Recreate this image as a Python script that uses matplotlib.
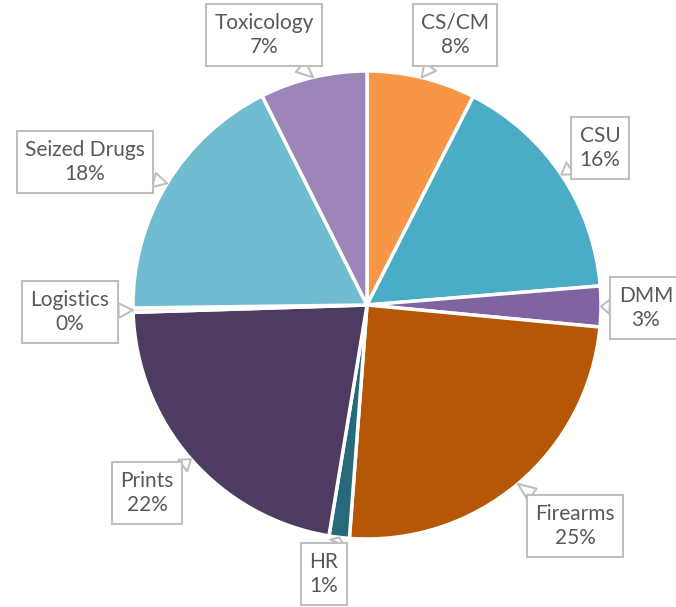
import numpy as np
import matplotlib.pyplot as plt

# Section share of cases (%)
sections = ['CS/CM', 'CSU', 'DMM', 'Firearms', 'HR', 'Prints', 'Logistics',
            'Seized Drugs', 'Toxicology']
shares = [7.5, 16.2, 2.8, 24.7, 1.4, 21.9, 0.3, 17.8, 7.4]
colors = ['#F79646', '#4BACC6', '#8064A2', '#B65708', '#276A7C', '#4D3B62',
          '#FAC090', '#70BCD1', '#9C85B8']

# label box centres in figure pixels (from top-left)
label_pos = {
    'CS/CM': (455, 35), 'CSU': (600, 148), 'DMM': (646, 308),
    'Firearms': (575, 526), 'HR': (324, 574), 'Prints': (147, 493),
    'Logistics': (70, 312), 'Seized Drugs': (85, 162), 'Toxicology': (264, 35),
}

W, H = 676, 607
fig = plt.figure(figsize=(W / 100, H / 100), dpi=100)
cx, cy, r = 367, 305, 234
ax = fig.add_axes([(cx - r) / W, (H - cy - r) / H, 2 * r / W, 2 * r / H])

wedges, _ = ax.pie(shares, colors=colors, startangle=90, counterclock=False,
                   radius=1, wedgeprops=dict(edgecolor='white', linewidth=2.5))
ax.set_xlim(-1, 1)
ax.set_ylim(-1, 1)
ax.set_aspect('equal')
ax.axis('off')

for w, name, val in zip(wedges, sections, shares):
    mid = np.deg2rad((w.theta1 + w.theta2) / 2)
    tip = (np.cos(mid), np.sin(mid))
    tx, ty = label_pos[name]
    ax.annotate(f'{name}\n{val:.0f}%', xy=tip, xycoords='data',
                xytext=(tx, H - ty), textcoords='figure pixels',
                ha='center', va='center', fontsize=15, family='Lato',
                color='#595959', linespacing=1.3,
                bbox=dict(boxstyle='square,pad=0.4', fc='white', ec='#BFBFBF', lw=1.5),
                arrowprops=dict(arrowstyle='wedge,tail_width=0.7,shrink_factor=0.5',
                                fc='white', ec='#BFBFBF', lw=1.5,
                                shrinkA=0, shrinkB=0),
                annotation_clip=False)

fig.savefig('out.png', dpi=100)
